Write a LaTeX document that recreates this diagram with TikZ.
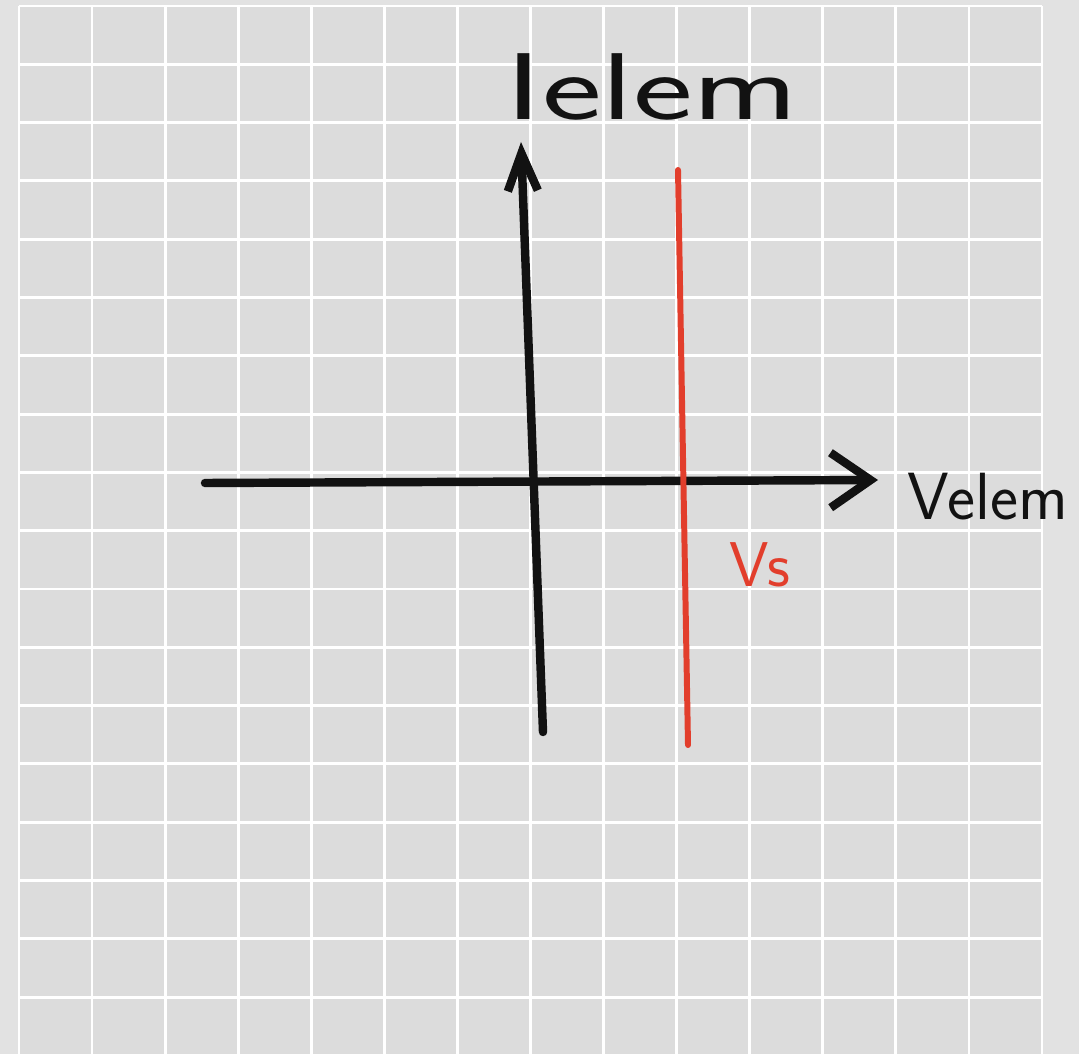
\documentclass[tikz,border=0pt]{standalone}
\usepackage{fontspec}
\usepackage{graphicx}
\usetikzlibrary{arrows.meta}
\definecolor{paper}{RGB}{220,220,220}
\definecolor{margin}{RGB}{226,226,226}
\definecolor{pen}{RGB}{18,18,18}
\definecolor{redpen}{RGB}{226,62,44}

\begin{document}
\begin{tikzpicture}[
  x=0.02cm, y=-0.02cm, font=\sffamily,
  gridline/.style={white, line width=1.6pt},
  axis/.style={pen, line width=4.8pt, line cap=round, line join=round},
  level/.style={redpen, line width=3.4pt, line cap=round},
  hand/.style={inner sep=0pt, text=pen},
]
  \useasboundingbox (0,0) rectangle (1079,1054);
  \fill[margin] (0,0) rectangle (1079,1054);
  \fill[paper] (19,6) rectangle (1042,1054);

  % grid paper
  \foreach \i in {0,...,14}
    \draw[gridline] ({19+73.07*\i},6) -- ({19+73.07*\i},1054);
  \foreach \j in {0,...,17}
    \draw[gridline] (19,{6+58.3*\j}) -- (1042,{6+58.3*\j});

  % axes
  \coordinate (xl) at (205,483);
  \coordinate (xr) at (878,480);
  \coordinate (yb) at (543,732);
  \coordinate (yt) at (521,142);
  \draw[axis, -{Straight Barb[length=0.8cm, width=1.1cm]}] (xl) -- (xr);
  \draw[axis, -{Straight Barb[length=0.75cm, width=0.6cm]}] (yb) -- (yt);

  % source voltage
  \coordinate (vtop) at (678,170);
  \coordinate (vbot) at (688,745);
  \draw[level] (vtop) -- (vbot);

  % labels
  \node[hand, anchor=base west, font=\sffamily\fontsize{54}{54}\selectfont] (ilabel) at (505,120)
    {\scalebox{1.5}[1]{Ielem}};
  \node[hand, font=\sffamily\fontsize{38}{38}\selectfont] (vlabel) at (988,497) {Velem};
  \node[hand, text=redpen, font=\sffamily\fontsize{36}{36}\selectfont] (vs) at (760,565) {Vs};
\end{tikzpicture}
\end{document}
